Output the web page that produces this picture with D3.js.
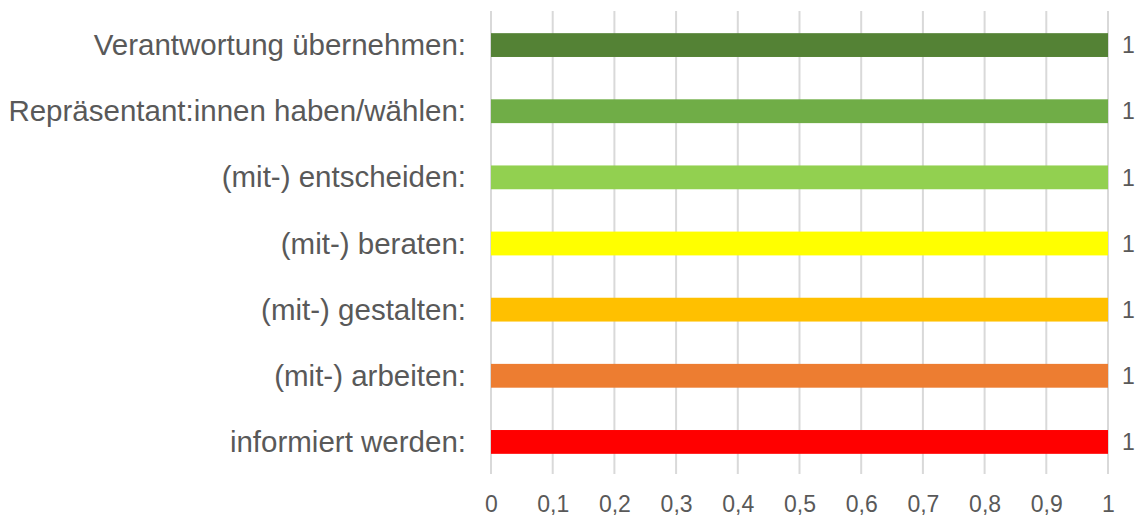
<!DOCTYPE html>
<html>
<head>
<meta charset="utf-8">
<script src="https://cdn.jsdelivr.net/npm/d3@7"></script>
<style>
	body { margin: 0; background: #fff; }
	text { font-family: "Liberation Sans", Arial, sans-serif; fill: #595959; }
</style>
</head>
<body>
<script>
//data
var categories = [
	"Verantwortung übernehmen:",
	"Repräsentant:innen haben/wählen:",
	"(mit-) entscheiden:",
	"(mit-) beraten:",
	"(mit-) gestalten:",
	"(mit-) arbeiten:",
	"informiert werden:"
];
var values = [1, 1, 1, 1, 1, 1, 1];
var colors = ["#548235", "#70ad47", "#92d050", "#ffff00", "#ffc000", "#ed7d31", "#ff0000"];
var tickValues = [0, 0.1, 0.2, 0.3, 0.4, 0.5, 0.6, 0.7, 0.8, 0.9, 1];

var chart_w = 1137, chart_h = 516;
var plot_left = 491, plot_right = 1108, plot_top = 12, plot_bottom = 475;

var svg = d3.select("body").append("svg")
	.attr("width", chart_w)
	.attr("height", chart_h);

var x = d3.scaleLinear().domain([0, 1]).range([plot_left, plot_right]);
var y = d3.scaleBand().domain(categories).range([plot_top, plot_bottom])
	.paddingInner(0.64).paddingOuter(0.32);

//grid lines
svg.append("g").selectAll("line")
	.data(tickValues)
	.enter().append("line")
	.attr("x1", function (d) { return x(d); })
	.attr("x2", function (d) { return x(d); })
	.attr("y1", plot_top - 1)
	.attr("y2", plot_bottom - 1)
	.style("stroke", "#d9d9d9")
	.style("stroke-width", 2);

//x axis labels
var xAxis = d3.axisBottom(x)
	.tickValues(tickValues)
	.tickSize(0)
	.tickPadding(0)
	.tickFormat(function (d) { return d3.format(".1~f")(d).replace(".", ","); });

var gx = svg.append("g")
	.attr("transform", "translate(0,512)")
	.call(xAxis);
gx.select(".domain").remove();
gx.selectAll("text")
	.attr("y", 0)
	.attr("dy", 0)
	.style("font-size", "23px");

//category labels
var yAxis = d3.axisLeft(y).tickSize(0).tickPadding(24);
var gy = svg.append("g")
	.attr("transform", "translate(" + (plot_left - 1) + ",0)")
	.call(yAxis);
gy.select(".domain").remove();
gy.selectAll("text")
	.attr("dy", "0.34em")
	.style("font-size", "29.5px");

//bars
svg.append("g").selectAll("rect")
	.data(values)
	.enter().append("rect")
	.attr("x", x(0))
	.attr("y", function (d, i) { return y(categories[i]); })
	.attr("width", function (d) { return x(d) - x(0); })
	.attr("height", y.bandwidth())
	.style("fill", function (d, i) { return colors[i]; });

//value labels
svg.append("g").selectAll("text")
	.data(values)
	.enter().append("text")
	.attr("x", function (d) { return x(d) + 14; })
	.attr("y", function (d, i) { return y(categories[i]) + y.bandwidth() / 2; })
	.attr("dy", "0.36em")
	.style("font-size", "23px")
	.text(function (d) { return d; });
</script>
</body>
</html>
